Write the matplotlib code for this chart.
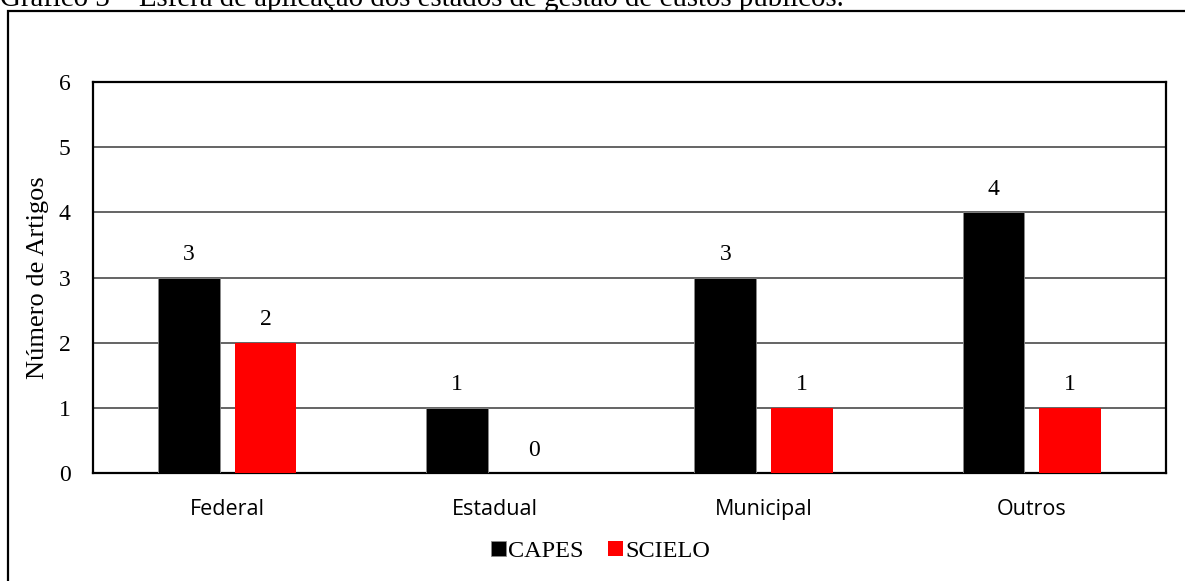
import matplotlib
matplotlib.use("Agg")
import matplotlib.pyplot as plt
from matplotlib.patches import Rectangle
import numpy as np

categories = ["Federal", "Estadual", "Municipal", "Outros"]
capes = [3, 1, 3, 4]
scielo = [2, 0, 1, 1]
series_names = ["CAPES", "SCIELO"]
y_ticks = [0, 1, 2, 3, 4, 5, 6]
title = "Gráfico 3 – Esfera de aplicação dos estados de gestão de custos públicos."
y_label = "Número de Artigos"

SERIF = "Liberation Serif"
SANS = "Open Sans"

W, H = 1185, 581
fig = plt.figure(figsize=(W / 100, H / 100), dpi=100)
fig.patch.set_facecolor("white")

# outer frame around the chart
frame = Rectangle((7.5 / W, -0.2), 1.2, (1 - 11 / H) + 0.2, transform=fig.transFigure,
                  fill=False, edgecolor="black", linewidth=1.6, clip_on=False)
fig.add_artist(frame)

# caption line above the frame
fig.text(0.0, 1 - 6 / H, title, fontfamily=SERIF, fontsize=20.8, ha="left", va="baseline")

ax = fig.add_axes([93 / W, (H - 473) / H, (1166 - 93) / W, (473 - 82) / H])

x = np.arange(len(categories))
width = 0.23
offset = 0.143
b1 = ax.bar(x - offset, capes, width, color="black", edgecolor="#8a8a8a", linewidth=0.6,
            zorder=3, label=series_names[0])
b2 = ax.bar(x + offset, scielo, width, color="#FF0000", zorder=3, label=series_names[1])

for bars, vals in ((b1, capes), (b2, scielo)):
    for rect, v in zip(bars, vals):
        ax.annotate(str(v), (rect.get_x() + rect.get_width() / 2, v),
                    xytext=(0, 9), textcoords="offset points",
                    ha="center", va="bottom", fontfamily=SERIF, fontsize=17)

ax.set_xlim(-0.5, len(categories) - 0.5)
ax.set_ylim(0, 6)
ax.set_yticks(y_ticks)
ax.set_xticks(x)
ax.set_xticklabels(categories, fontfamily=SANS, fontsize=15.5)
ax.tick_params(axis="x", length=0, pad=19)
ax.tick_params(axis="y", length=0, pad=16)
for lab in ax.get_yticklabels():
    lab.set_fontfamily(SERIF)
    lab.set_fontsize(17)

ax.yaxis.grid(True, color="#3a3a3a", linewidth=1.1, zorder=0)
ax.set_axisbelow(True)
for s in ax.spines.values():
    s.set_linewidth(1.6)
    s.set_color("black")

ax.set_ylabel(y_label, fontfamily=SERIF, fontsize=19)
ax.yaxis.set_label_coords(-44 / (1166 - 93), 0.5)

ax.legend(loc="upper center", bbox_to_anchor=(0.473, -0.118), ncol=2, frameon=False,
          prop={"family": SERIF, "size": 17.5}, handlelength=0.6, handleheight=0.6,
          handletextpad=0.1, columnspacing=1.0)

fig.savefig("out.png", dpi=100)
